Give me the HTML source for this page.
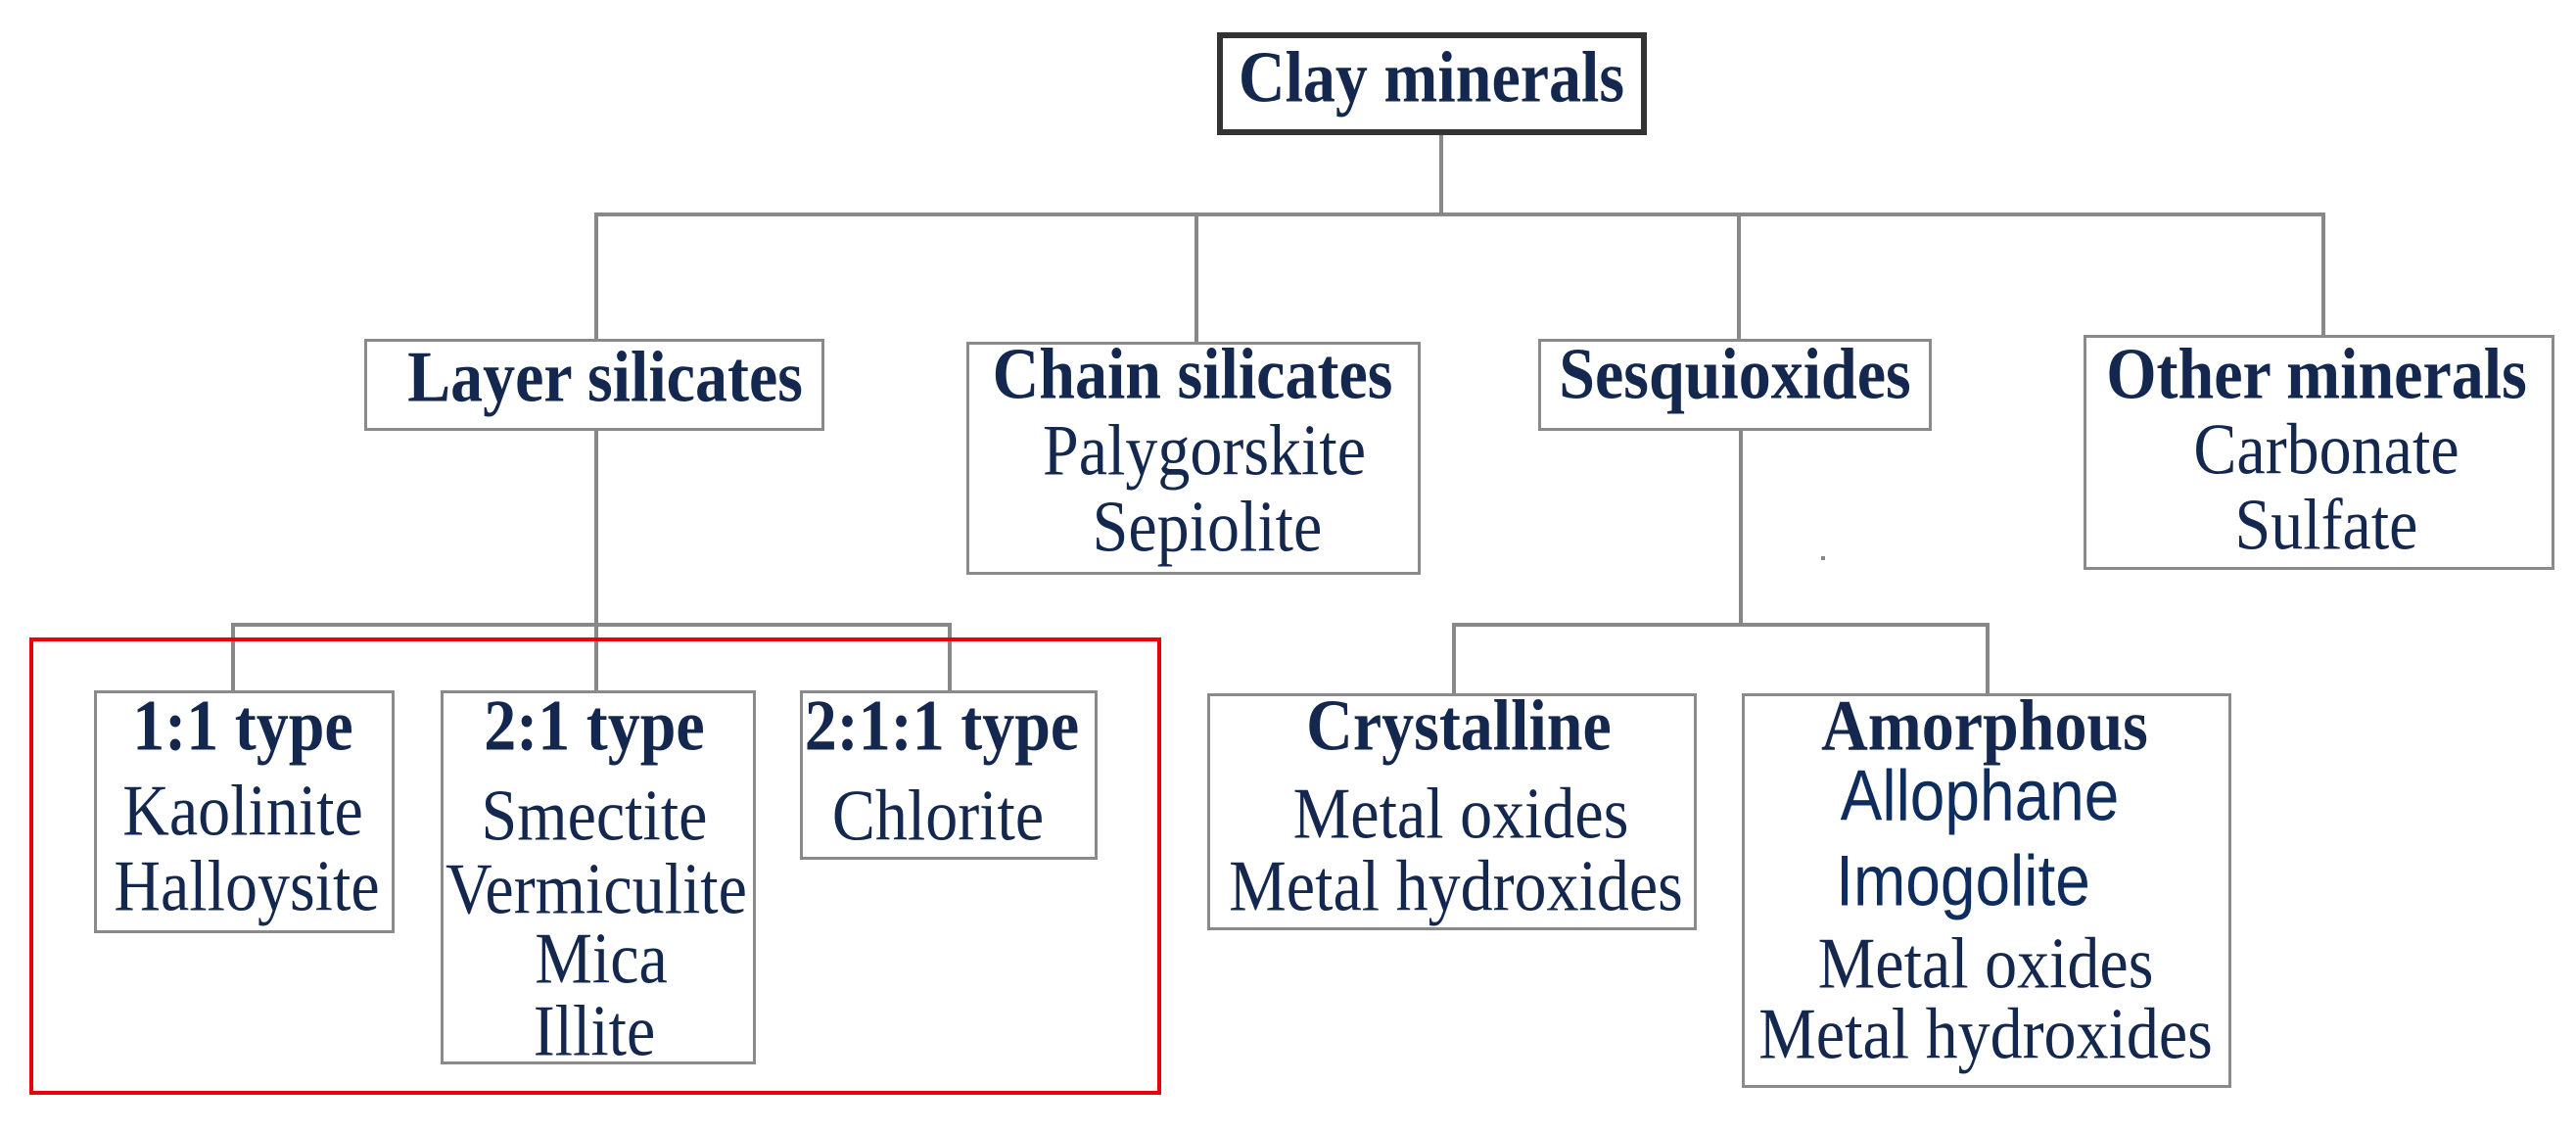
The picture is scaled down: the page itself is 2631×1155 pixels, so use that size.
<!DOCTYPE html>
<html><head><meta charset="utf-8"><style>
html,body{margin:0;padding:0;background:#fff}
body{width:2631px;height:1155px;position:relative;overflow:hidden}
.b{position:absolute;border:3px solid #8a8a8a;box-sizing:border-box;background:transparent}
.l{position:absolute;background:#888}
.t{position:absolute;white-space:nowrap;transform:translate(-50%,-50%) scaleY(1.12);font-family:"Liberation Serif",serif;font-size:66px;line-height:66px;color:#14284f}
.bd{font-weight:bold}
.s{font-family:"Liberation Sans",sans-serif;font-size:64px;color:#0e2d5e;transform:translate(-50%,-50%) scaleX(1.0) scaleY(1.15)}
</style></head><body>
<div class="l" style="left:1470px;top:134px;width:4px;height:86px"></div>
<div class="l" style="left:607px;top:217px;width:1768px;height:4px"></div>
<div class="l" style="left:607px;top:217px;width:4px;height:130px"></div>
<div class="l" style="left:1220px;top:217px;width:4px;height:133px"></div>
<div class="l" style="left:1774px;top:217px;width:4px;height:130px"></div>
<div class="l" style="left:2371px;top:217px;width:4px;height:126px"></div>
<div class="l" style="left:607px;top:440px;width:4px;height:266px"></div>
<div class="l" style="left:236px;top:636px;width:736px;height:4px"></div>
<div class="l" style="left:236px;top:636px;width:4px;height:70px"></div>
<div class="l" style="left:968px;top:636px;width:4px;height:70px"></div>
<div class="l" style="left:1776px;top:440px;width:4px;height:198px"></div>
<div class="l" style="left:1483px;top:636px;width:549px;height:4px"></div>
<div class="l" style="left:1483px;top:636px;width:4px;height:72px"></div>
<div class="l" style="left:2028px;top:636px;width:4px;height:72px"></div>
<div style="position:absolute;left:1860px;top:568px;width:4px;height:4px;background:#888"></div>
<div style="position:absolute;left:30px;top:651px;width:1156px;height:467px;border:4px solid #e8000b;box-sizing:border-box"></div>
<div class="b" style="left:1243px;top:33px;width:439px;height:105px;border:6px solid #333"></div>
<div class="b" style="left:372px;top:346px;width:470px;height:94px"></div>
<div class="b" style="left:987px;top:349px;width:464px;height:238px"></div>
<div class="b" style="left:1571px;top:346px;width:402px;height:94px"></div>
<div class="b" style="left:2128px;top:342px;width:481px;height:240px"></div>
<div class="b" style="left:96px;top:705px;width:307px;height:248px"></div>
<div class="b" style="left:450px;top:705px;width:322px;height:382px"></div>
<div class="b" style="left:817px;top:705px;width:304px;height:173px"></div>
<div class="b" style="left:1233px;top:708px;width:500px;height:242px"></div>
<div class="b" style="left:1779px;top:708px;width:500px;height:403px"></div>
<div class="t bd" style="left:1462px;top:80px">Clay minerals</div>
<div class="t bd" style="left:618px;top:386px">Layer silicates</div>
<div class="t bd" style="left:1218px;top:383px">Chain silicates</div>
<div class="t" style="left:1230px;top:461px">Palygorskite</div>
<div class="t" style="left:1233px;top:539px">Sepiolite</div>
<div class="t bd" style="left:1772px;top:383px">Sesquioxides</div>
<div class="t bd" style="left:2366px;top:383px">Other minerals</div>
<div class="t" style="left:2376px;top:460px">Carbonate</div>
<div class="t" style="left:2376px;top:537px">Sulfate</div>
<div class="t bd" style="left:248px;top:742px">1:1 type</div>
<div class="t" style="left:248px;top:829px">Kaolinite</div>
<div class="t" style="left:252px;top:906px">Halloysite</div>
<div class="t bd" style="left:607px;top:742px">2:1 type</div>
<div class="t" style="left:607px;top:834px">Smectite</div>
<div class="t" style="left:609px;top:909px">Vermiculite</div>
<div class="t" style="left:614px;top:980px">Mica</div>
<div class="t" style="left:607px;top:1054px">Illite</div>
<div class="t bd" style="left:962px;top:742px">2:1:1 type</div>
<div class="t" style="left:958px;top:834px">Chlorite</div>
<div class="t bd" style="left:1490px;top:742px">Crystalline</div>
<div class="t" style="left:1492px;top:832px">Metal oxides</div>
<div class="t" style="left:1487px;top:906px">Metal hydroxides</div>
<div class="t bd" style="left:2027px;top:742px">Amorphous</div>
<div class="t s" style="left:2022px;top:812px">Allophane</div>
<div class="t s" style="left:2005px;top:899px">Imogolite</div>
<div class="t" style="left:2028px;top:985px">Metal oxides</div>
<div class="t" style="left:2028px;top:1057px">Metal hydroxides</div>
</body></html>
